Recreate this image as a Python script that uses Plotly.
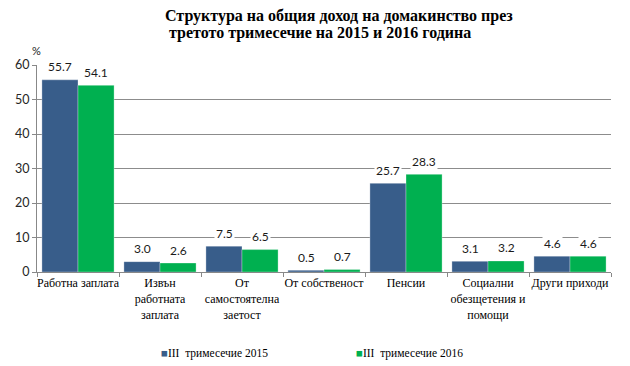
import plotly.graph_objects as go

categories = ["Работна заплата", "Извън<br>работната<br>заплата", "От<br>самостоятелна<br>заетост",
              "От собственост", "Пенсии", "Социални<br>обезщетения и<br>помощи", "Други приходи"]
series_names = ["III  тримесечие 2015", "III  тримесечие 2016"]
values_2015 = [55.7, 3.0, 7.5, 0.5, 25.7, 3.1, 4.6]
values_2016 = [54.1, 2.6, 6.5, 0.7, 28.3, 3.2, 4.6]
y_ticks = [0, 10, 20, 30, 40, 50, 60]
colors = ["#385D8A", "#00B050"]

OFF = 8  # page body margin
W, H = 630 - OFF, 366 - OFF
ML, MR, MT, MB = 37 - OFF, 19, 65 - OFF, 94
PW = W - ML - MR
PH = H - MT - MB

fig = go.Figure()
for name, vals, col in zip(series_names, [values_2015, values_2016], colors):
    fig.add_trace(go.Bar(x=categories, y=vals, name=name, marker_color=col,
                         marker_line=dict(color="rgba(255,255,255,0.6)", width=0.5),
                         showlegend=False, hoverinfo="x+y"))

ann = []
for vals, shift in [(values_2015, -18), (values_2016, 18)]:
    for c, v in zip(categories, vals):
        ann.append(dict(x=c, y=v, xref="x", yref="y", text=f"{v:.1f}", showarrow=False,
                        xshift=shift, yanchor="middle", yshift=13, bgcolor="white",
                        borderpad=1, font=dict(family="Lato", size=12, color="#1a1a1a")))

def px(xp):
    return (xp - OFF - ML) / PW

def py(yp):
    return (H - MB - (yp - OFF)) / PH

# title
ann.append(dict(xref="paper", yref="paper", x=px(163), y=py(16), xanchor="left", yanchor="middle",
                text="<b>Структура на общия доход на домакинство през</b>", showarrow=False,
                font=dict(family="Liberation Serif", size=16, color="black")))
ann.append(dict(xref="paper", yref="paper", x=px(167), y=py(33), xanchor="left", yanchor="middle",
                text="<b>третото тримесечие на 2015 и 2016 година</b>", showarrow=False,
                font=dict(family="Liberation Serif", size=16, color="black")))
# unit
ann.append(dict(xref="paper", yref="paper", x=px(36), y=py(51), xanchor="center", yanchor="middle",
                text="%", showarrow=False, font=dict(family="Lato", size=11, color="#1a1a1a")))
# legend
for xpos, name, col in zip([159, 354], series_names, colors):
    ann.append(dict(xref="paper", yref="paper", x=px(xpos), y=py(353), xanchor="left", yanchor="middle",
                    text=f"<span style='color:{col}'>■</span>{name}", showarrow=False,
                    font=dict(family="Liberation Serif", size=11.5, color="black")))

fig.update_layout(
    width=W, height=H,
    margin=dict(l=ML, r=MR, t=MT, b=MB, autoexpand=False),
    paper_bgcolor="white", plot_bgcolor="white",
    barmode="group", bargap=0.12, bargroupgap=0,
    annotations=ann,
    xaxis=dict(tickfont=dict(family="Liberation Serif", size=12, color="black"),
               tickangle=0, automargin=False,
               showline=True, linecolor="#888888", linewidth=1,
               ticks="outside", tickson="boundaries", ticklen=4, tickcolor="#888888",
               showgrid=False, fixedrange=True),
    yaxis=dict(range=[0, 60], tickvals=y_ticks, showgrid=True, gridcolor="#8c8c8c", gridwidth=1,
               automargin=False,
               showline=True, linecolor="#888888", linewidth=1, ticks="outside", ticklen=4,
               tickcolor="#888888", tickfont=dict(family="Lato", size=12.5, color="#262626"),
               zeroline=False, fixedrange=True),
)

fig.write_html("out.html")
